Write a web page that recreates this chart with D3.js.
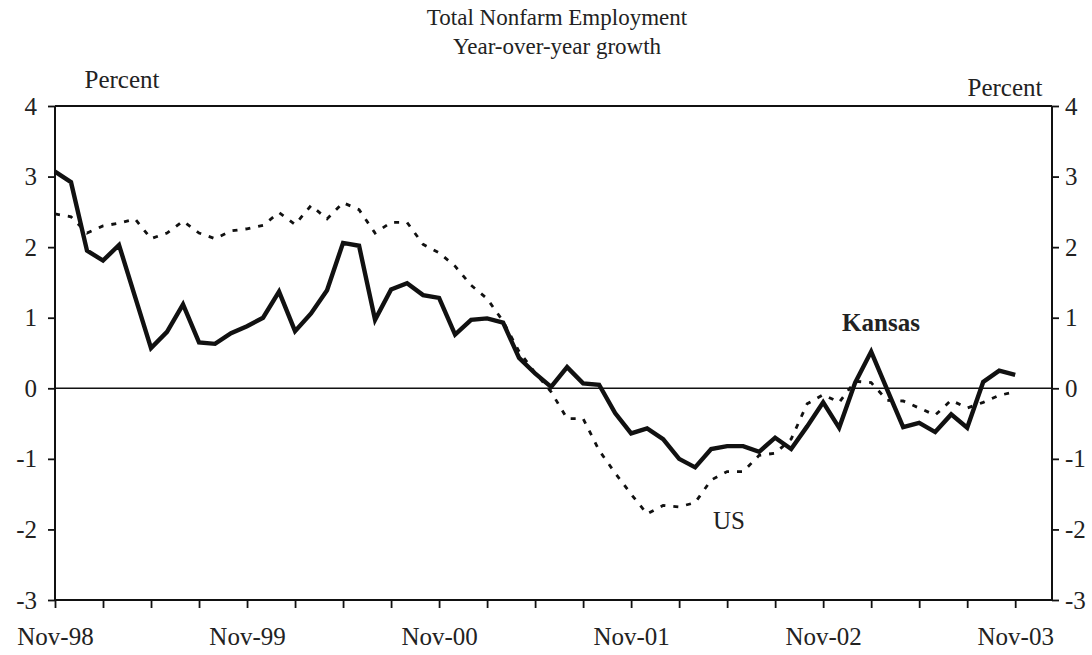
<!DOCTYPE html>
<html>
<head>
<meta charset="utf-8">
<script src="https://cdn.jsdelivr.net/npm/d3@7"></script>
<style>
  html, body { margin: 0; padding: 0; background: #fff; }
  svg { display: block; }
  text { font-family: "Liberation Serif", "Times New Roman", serif; fill: #222; }
</style>
</head>
<body>
<svg id="chart" width="1092" height="655"></svg>
<script>
// ---- Data (monthly, Nov-98 .. Nov-03) ----
const titleLines = ["Total Nonfarm Employment", "Year-over-year growth"];
const xTickLabels = ["Nov-98", "Nov-99", "Nov-00", "Nov-01", "Nov-02", "Nov-03"];
const yTicks = [-3, -2, -1, 0, 1, 2, 3, 4];
const kansas = [
  3.07, 2.92, 1.95, 1.81, 2.03, 1.30, 0.57, 0.80, 1.19, 0.65,
  0.63, 0.78, 0.88, 1.00, 1.37, 0.81, 1.06, 1.39, 2.06, 2.02,
  0.97, 1.40, 1.49, 1.32, 1.28, 0.76, 0.97, 0.99, 0.93, 0.43,
  0.21, 0.02, 0.30, 0.07, 0.05, -0.35, -0.64, -0.57, -0.72, -1.00,
  -1.12, -0.86, -0.82, -0.82, -0.90, -0.70, -0.86, -0.54, -0.20, -0.56,
  0.08, 0.52, -0.02, -0.55, -0.49, -0.62, -0.37, -0.56, 0.09, 0.25,
  0.19
];
const us = [
  2.47, 2.43, 2.20, 2.30, 2.34, 2.40, 2.12, 2.20, 2.37, 2.20,
  2.12, 2.23, 2.26, 2.31, 2.49, 2.32, 2.59, 2.40, 2.63, 2.53,
  2.20, 2.35, 2.35, 2.04, 1.92, 1.73, 1.46, 1.27, 0.95, 0.52,
  0.22, -0.05, -0.43, -0.43, -0.88, -1.20, -1.50, -1.78, -1.66, -1.68,
  -1.62, -1.30, -1.18, -1.18, -0.95, -0.92, -0.72, -0.22, -0.09, -0.20,
  0.10, 0.08, -0.17, -0.18, -0.28, -0.38, -0.17, -0.28, -0.20, -0.10,
  -0.05
];

// ---- Layout ----
const svg = d3.select("#chart");
const mLeft = 55, mRight = 1052, mTop = 106, mBottom = 600;
const x = d3.scaleLinear().domain([0, 62.3]).range([mLeft, mRight]);
const y = d3.scaleLinear().domain([-3, 4]).range([mBottom, mTop]);
const labelFont = "25px";

// Title
svg.selectAll("text.title").data(titleLines).join("text")
  .attr("class", "title")
  .attr("x", 557).attr("y", (d, i) => 25 + i * 29)
  .attr("text-anchor", "middle")
  .style("font-size", "23px")
  .text(d => d);

// Unit labels
svg.append("text").attr("x", 122).attr("y", 88).attr("text-anchor", "middle")
  .style("font-size", labelFont).text("Percent");
svg.append("text").attr("x", 1005).attr("y", 96).attr("text-anchor", "middle")
  .style("font-size", labelFont).text("Percent");

// Frame: top line
svg.append("line").attr("x1", mLeft).attr("x2", mRight)
  .attr("y1", y(4)).attr("y2", y(4))
  .attr("stroke", "#111").attr("stroke-width", 2);

// Zero line
svg.append("line").attr("x1", mLeft).attr("x2", mRight)
  .attr("y1", y(0)).attr("y2", y(0))
  .attr("stroke", "#111").attr("stroke-width", 1.6);

// Axes
const monthTicks = d3.range(0, 61, 3);
const xAxis = d3.axisBottom(x).tickValues(monthTicks).tickSize(8).tickPadding(19)
  .tickFormat(d => d % 12 === 0 ? xTickLabels[d / 12] : "");
const gx = svg.append("g").attr("transform", `translate(0,${mBottom})`).call(xAxis);
gx.select(".domain").attr("d", `M${mLeft},0H${mRight}`).attr("stroke", "#111").attr("stroke-width", 2);
gx.selectAll(".tick line").attr("stroke", "#111").attr("stroke-width", 1.8);
gx.selectAll(".tick text").style("font-size", labelFont).attr("fill", "#222")
  .style("font-family", "'Liberation Serif', serif");

const yAxisL = d3.axisLeft(y).tickValues(yTicks).tickSize(7).tickPadding(11).tickFormat(d => String(d));
const gyl = svg.append("g").attr("transform", `translate(${mLeft},0)`).call(yAxisL);
gyl.select(".domain").attr("d", `M0,${mTop}V${mBottom}`).attr("stroke", "#111").attr("stroke-width", 2);
gyl.selectAll(".tick line").attr("stroke", "#111").attr("stroke-width", 1.8);
gyl.selectAll(".tick text").style("font-size", labelFont).attr("fill", "#222")
  .style("font-family", "'Liberation Serif', serif");

const yAxisR = d3.axisRight(y).tickValues(yTicks).tickSize(7).tickPadding(6).tickFormat(d => String(d));
const gyr = svg.append("g").attr("transform", `translate(${mRight},0)`).call(yAxisR);
gyr.select(".domain").attr("d", `M0,${mTop}V${mBottom}`).attr("stroke", "#111").attr("stroke-width", 2);
gyr.selectAll(".tick line").attr("stroke", "#111").attr("stroke-width", 1.8);
gyr.selectAll(".tick text").style("font-size", labelFont).attr("fill", "#222")
  .style("font-family", "'Liberation Serif', serif");

// Lines
const line = d3.line().x((d, i) => x(i)).y(d => y(d));
svg.append("path").datum(us).attr("d", line)
  .attr("fill", "none").attr("stroke", "#111").attr("stroke-width", 2.8)
  .attr("stroke-dasharray", "5,8");
svg.append("path").datum(kansas).attr("d", line)
  .attr("fill", "none").attr("stroke", "#111").attr("stroke-width", 4.4)
  .attr("stroke-linejoin", "miter");

// Series labels
svg.append("text").attr("x", 881).attr("y", 331).attr("text-anchor", "middle")
  .style("font-size", labelFont).style("font-weight", "bold").text("Kansas");
svg.append("text").attr("x", 729).attr("y", 529).attr("text-anchor", "middle")
  .style("font-size", labelFont).text("US");
</script>
</body>
</html>
